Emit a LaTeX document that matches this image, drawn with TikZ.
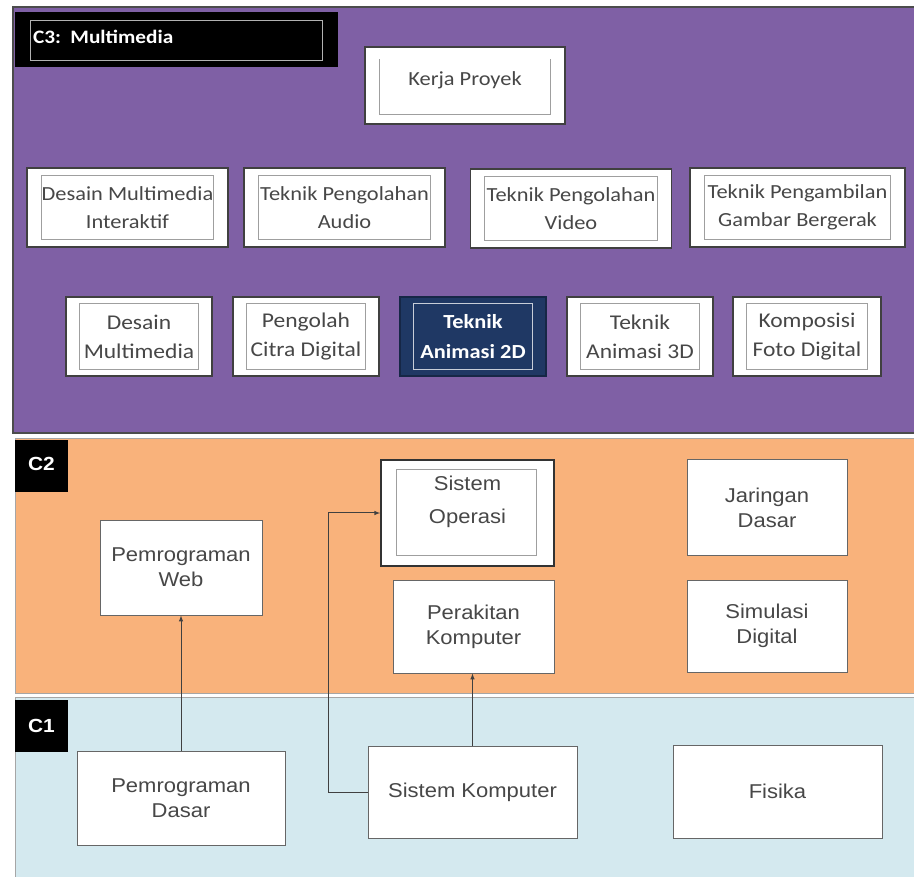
\documentclass[tikz,border=0pt]{standalone}
\usepackage{fontspec}
\setmainfont{Carlito}[FakeStretch=1.12]
\newfontfamily\arialfont{Liberation Sans}[FakeStretch=1.1]
\usetikzlibrary{positioning, arrows}

\definecolor{bandpurple}{HTML}{7F60A5}
\definecolor{bandorange}{HTML}{F9B27B}
\definecolor{bandblue}{HTML}{D4E9EF}
\definecolor{navybox}{HTML}{1F3864}
\definecolor{textgrey}{HTML}{474747}

\tikzset{
  band/.style={draw=gray!70, line width=0.8pt},
  tag/.style={fill=black, text=white, inner sep=0pt, minimum width=53pt, minimum height=52pt,
    font=\arialfont\bfseries\fontsize{19}{22}\selectfont},
  mmbox/.style={draw=black!75, line width=1.6pt, fill=white, text=textgrey, align=center,
    inner sep=0pt, minimum width=201pt, minimum height=79pt, font=\fontsize{20}{28}\selectfont},
  smallmm/.style={mmbox, minimum width=146pt, font=\fontsize{21}{29}\selectfont},
  navy/.style={smallmm, fill=navybox, draw=navybox!70!black, text=white, font=\bfseries\fontsize{20}{30}\selectfont},
  cbox/.style={draw=black!60, line width=1pt, fill=white, text=textgrey, align=center,
    inner sep=0pt, font=\arialfont\fontsize{20}{25}\selectfont},
  innerframe/.style={draw=gray!75, line width=0.9pt},
  link/.style={->, draw=black!75, line width=1pt},
}

\begin{document}
\begin{tikzpicture}[x=1pt, y=-1pt, >=latex, node distance=167pt, on grid]
\useasboundingbox (0,0) rectangle (914,877);
\fill[white] (0,0) rectangle (914,877);

% three bands
\filldraw[draw=black!70, line width=1.2pt, fill=bandpurple] (13,7) rectangle (916,433);
\filldraw[band, fill=bandorange] (15,438) rectangle (916,693);
\filldraw[band, fill=bandblue] (15,697) rectangle (916,880);

% C3
\node[tag, minimum width=323pt, minimum height=55pt, text width=287pt, align=left,
  font=\bfseries\fontsize{19}{22}\selectfont] (c3) at (176.5,39.5) {\raisebox{6pt}{C3: Multimedia}};
\draw[innerframe, draw=gray!60] (30,20) rectangle (322,60);

\node[mmbox, minimum width=200pt, minimum height=77pt] (kerja) at (465,85.5) {\raisebox{13pt}{Kerja Proyek}};
\draw[innerframe] ([xshift=15pt,yshift=-13pt]kerja.north west) |- ([xshift=-15pt,yshift=10pt]kerja.south east)
  -- ([xshift=-15pt,yshift=-13pt]kerja.north east);

\node[mmbox] (dmi) at (127.5,207.5) {Desain Multimedia\\Interaktif};
\node[mmbox] (tpa) at (344.5,207.5) {Teknik Pengolahan\\Audio};
\node[mmbox] (tpv) at (571,208.5) {Teknik Pengolahan\\Video};
\node[mmbox, minimum width=215pt] (tpg) at (797.5,207.5) {Teknik Pengambilan\\Gambar Bergerak};

\node[smallmm] (dm) at (139,336.5) {Desain\\Multimedia};
\node[smallmm, right=of dm] (pcd) {Pengolah\\Citra Digital};
\node[navy, right=of pcd] (ta2) {Teknik\\Animasi 2D};
\node[smallmm, right=of ta2] (ta3) {Teknik\\Animasi 3D};
\node[smallmm, minimum width=148pt, right=of ta3] (kfd) {Komposisi\\Foto Digital};

\foreach \n in {dmi,tpa,tpv,tpg}
  \draw[innerframe] ([xshift=15pt,yshift=-8pt]\n.north west) rectangle ([xshift=-15pt,yshift=8pt]\n.south east);
\foreach \n in {dm,pcd,ta3,kfd}
  \draw[innerframe] ([xshift=14pt,yshift=-7pt]\n.north west) rectangle ([xshift=-14pt,yshift=7pt]\n.south east);
\draw[innerframe, draw=white!75!navybox] ([xshift=14pt,yshift=-7pt]ta2.north west) rectangle ([xshift=-14pt,yshift=7pt]ta2.south east);

% C2
\node[tag] (c2) at (41.5,466) {\raisebox{4pt}{C2}};
\node[cbox, minimum width=162pt, minimum height=95pt] (pweb) at (181,567.5) {Pemrograman\\Web};
\node[cbox, draw=black!80, line width=1.6pt, minimum width=173pt, minimum height=106pt, text depth=27pt,
  font=\arialfont\fontsize{20}{33}\selectfont] (sisop) at (467.5,513) {Sistem\\Operasi};
\draw[innerframe] ([xshift=16pt,yshift=-10pt]sisop.north west) rectangle ([xshift=-18pt,yshift=11pt]sisop.south east);
\node[cbox, minimum width=161pt, minimum height=93pt] (rakit) at (473.5,626.5) {Perakitan\\Komputer};
\node[cbox, minimum width=160pt, minimum height=95pt] (jardas) at (767,507.5) {Jaringan\\Dasar};
\node[cbox, minimum width=160pt, minimum height=92pt] (simdig) at (767,626) {Simulasi\\Digital};

% C1
\node[tag] (c1) at (41.5,726) {\raisebox{1pt}{C1}};
\node[cbox, minimum width=208pt, minimum height=94pt] (pdasar) at (181,798) {Pemrograman\\Dasar};
\node[cbox, minimum width=209pt, minimum height=92pt] (siskom) at (472.5,792) {Sistem Komputer};
\node[cbox, minimum width=209pt, minimum height=93pt] (fisika) at (777.5,791.5) {Fisika};

\draw[link] (pdasar.north) -- (pweb.south);
\draw[link] (siskom.west) -- ++(-39,0) |- (sisop.west);
\draw[link] (siskom.north) -- (siskom.north |- rakit.south);
\end{tikzpicture}
\end{document}
